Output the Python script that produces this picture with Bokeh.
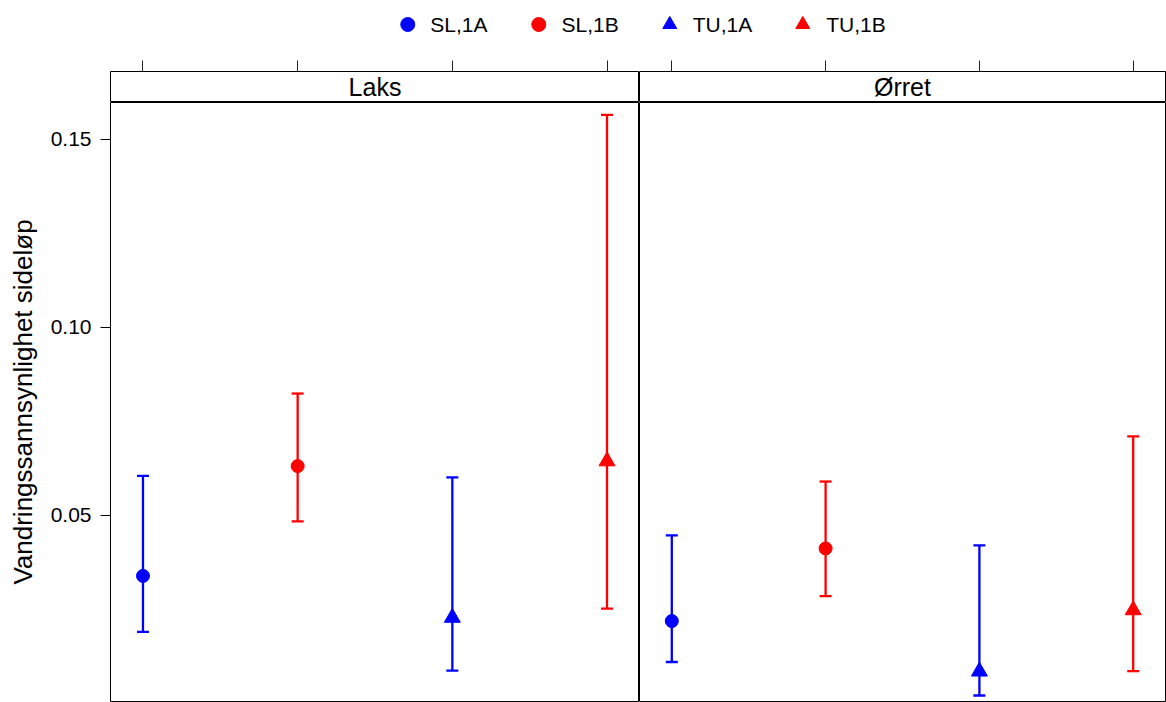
from bokeh.plotting import figure
from bokeh.layouts import column, row
from bokeh.models import (Range1d, FixedTicker, Legend, LegendItem, Label,
                          ColumnDataSource, PrintfTickFormatter)
from bokeh.embed import file_html
from bokeh.resources import INLINE

# ---------------- data ----------------
panels = ["Laks", "Ørret"]
groups = ["SL,1A", "SL,1B", "TU,1A", "TU,1B"]
group_pos = [1, 2, 3, 4]
group_color = ["#0000FF", "#FF0000", "#0000FF", "#FF0000"]
group_marker = ["circle", "circle", "triangle", "triangle"]

laks_est = [0.0339, 0.0631, 0.0228, 0.0644]
laks_lower = [0.0190, 0.0484, 0.0087, 0.0252]
laks_upper = [0.0605, 0.0824, 0.0601, 0.1565]

orret_est = [0.0219, 0.0412, 0.0085, 0.0248]
orret_lower = [0.0110, 0.0285, 0.0021, 0.0086]
orret_upper = [0.0447, 0.0590, 0.0420, 0.0710]

y_ticks = [0.05, 0.10, 0.15]
y_label = "Vandringssannsynlighet sideløp"

FONT = "Liberation Sans"
marker_size = {"circle": 13, "triangle": 16}

X_START, X_END = 0.79, 4.21
Y_START, Y_END = 0.0005, 0.1598


def make_panel(name, est, lower, upper, is_left):
    xr = Range1d(X_START, X_END)
    if is_left:
        w, mbl, mbr = 639, 110, 0
    else:
        w, mbl, mbr = 527, 0, 1

    # strip with top ticks
    strip = figure(width=w, height=54, x_range=xr, y_range=Range1d(0, 1),
                   output_backend="svg", toolbar_location=None,
                   min_border_left=mbl, min_border_right=mbr,
                   min_border_top=23, min_border_bottom=0,
                   x_axis_location="above", y_axis_location=None)
    strip.grid.visible = False
    strip.outline_line_color = "black"
    strip.outline_line_width = 1
    ax = strip.xaxis[0]
    ax.ticker = FixedTicker(ticks=group_pos)
    ax.major_tick_out = 11
    ax.major_tick_in = 0
    ax.minor_tick_line_color = None
    ax.axis_line_color = None
    ax.major_tick_line_color = "#222222"
    ax.major_label_overrides = {pos: "" for pos in group_pos}
    ax.major_label_standoff = 0
    strip.add_layout(Label(x=(X_START + X_END) / 2, y=0.5, text=name,
                           text_align="center", text_baseline="middle",
                           text_font=FONT, text_font_size="25px",
                           text_color="black"))

    # main panel
    p = figure(width=w, height=600, x_range=xr, y_range=Range1d(Y_START, Y_END),
               output_backend="svg", toolbar_location=None,
               min_border_left=mbl, min_border_right=mbr,
               min_border_top=0, min_border_bottom=1,
               x_axis_location=None,
               y_axis_location="left" if is_left else None)
    p.grid.visible = False
    p.outline_line_color = "black"
    p.outline_line_width = 1
    if is_left:
        ya = p.yaxis[0]
        ya.ticker = FixedTicker(ticks=y_ticks)
        ya.formatter = PrintfTickFormatter(format="%.2f")
        ya.major_tick_out = 10
        ya.major_tick_in = 0
        ya.minor_tick_line_color = None
        ya.axis_line_color = None
        ya.major_tick_line_color = "black"
        ya.major_label_text_font = FONT
        ya.major_label_text_font_size = "21px"
        ya.major_label_text_color = "black"
        ya.major_label_standoff = 9
        ya.axis_label = y_label
        ya.axis_label_text_font = FONT
        ya.axis_label_text_font_size = "26px"
        ya.axis_label_text_font_style = "normal"
        ya.axis_label_text_color = "black"
        ya.axis_label_standoff = 10

    src = ColumnDataSource(dict(
        x=group_pos, est=est, lower=lower, upper=upper,
        color=group_color, marker=group_marker,
        size=[marker_size[m] for m in group_marker],
    ))
    p.segment(x0="x", y0="lower", x1="x", y1="upper", source=src,
              line_color="color", line_width=2.3)
    p.scatter(x="x", y="lower", marker="dash", size=12, source=src,
              line_color="color", line_width=2.3)
    p.scatter(x="x", y="upper", marker="dash", size=12, source=src,
              line_color="color", line_width=2.3)
    p.scatter(x="x", y="est", marker="marker", size="size", source=src,
              fill_color="color", line_color="color")
    return column(strip, p)


left = make_panel(panels[0], laks_est, laks_lower, laks_upper, True)
right = make_panel(panels[1], orret_est, orret_lower, orret_upper, False)

# legend on top (its renderers are hidden; only their legend glyphs show)
leg = figure(width=1166, height=48, x_range=Range1d(0, 1), y_range=Range1d(0, 1),
             output_backend="svg", toolbar_location=None,
             min_border_left=110, min_border_right=1,
             min_border_top=0, min_border_bottom=0,
             x_axis_location=None, y_axis_location=None)
leg.grid.visible = False
leg.outline_line_color = None
items = []
for i, (g, c, m) in enumerate(zip(groups, group_color, group_marker)):
    key_src = ColumnDataSource(dict(x=[group_pos[i]], y=[laks_est[i]]))
    r = leg.scatter(x="x", y="y", source=key_src, marker=m,
                    size=marker_size[m], fill_color=c, line_color=c)
    r.visible = False
    items.append(LegendItem(label=g, renderers=[r]))
legend = Legend(items=items, orientation="horizontal", location="center",
                border_line_color=None, background_fill_alpha=0,
                padding=0, margin=0, spacing=33,
                glyph_width=35, glyph_height=35, label_standoff=6,
                label_text_font=FONT, label_text_font_size="21px",
                label_text_color="black", click_policy="none")
leg.add_layout(legend, "center")

layout = column(leg, row(left, right))

open("out.html", "w").write(file_html(layout, INLINE))
